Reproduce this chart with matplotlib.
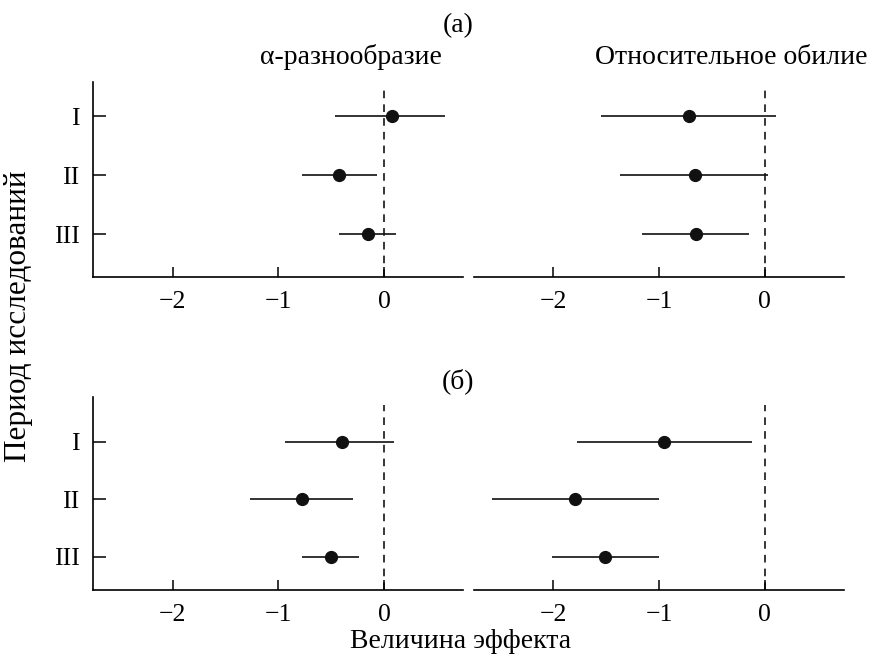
import matplotlib
matplotlib.use("Agg")
import matplotlib.pyplot as plt

plt.rcParams['font.family'] = ['Liberation Serif', 'DejaVu Serif']
plt.rcParams['font.size'] = 18.5

periods = ['I', 'II', 'III']
ypos = [1, 2, 3]

# (a) alpha diversity: mean, lower, upper
a_div_mean = [0.075, -0.425, -0.15]
a_div_low = [-0.465, -0.78, -0.425]
a_div_high = [0.58, -0.066, 0.11]

# (a) relative abundance
a_ab_mean = [-0.72, -0.66, -0.65]
a_ab_low = [-1.55, -1.365, -1.16]
a_ab_high = [0.107, 0.03, -0.15]

# (b) alpha diversity
b_div_mean = [-0.396, -0.776, -0.506]
b_div_low = [-0.94, -1.264, -0.776]
b_div_high = [0.094, -0.29, -0.236]

# (b) relative abundance
b_ab_mean = [-0.948, -1.796, -1.51]
b_ab_low = [-1.78, -2.583, -2.015]
b_ab_high = [-0.116, -0.998, -1.0]

fig = plt.figure(figsize=(8.7, 6.7), dpi=100)

W = 0.4253
H = 0.291
axes_specs = [
    ([0.1073, 0.587, W, H], a_div_mean, a_div_low, a_div_high, (3.72, 0.41), True),
    ([0.5448, 0.587, W, H], a_ab_mean, a_ab_low, a_ab_high, (3.72, 0.41), False),
    ([0.1073, 0.1194, W, 0.2885], b_div_mean, b_div_low, b_div_high, (3.58, 0.22), True),
    ([0.5448, 0.1194, W, 0.2885], b_ab_mean, b_ab_low, b_ab_high, (3.58, 0.22), False),
]

for rect, mean, low, high, ylim, show_y in axes_specs:
    ax = fig.add_axes(rect)
    err = [[m - l for m, l in zip(mean, low)], [h - m for m, h in zip(mean, high)]]
    ax.axvline(0, ymin=0, ymax=0.957, color='black', lw=1.1, ls=(0, (5, 4)))
    ax.errorbar(mean, ypos, xerr=err, fmt='o', color='#111111', ms=8.5,
                elinewidth=1.2, capsize=0, zorder=3)
    ax.set_xlim(-2.75, 0.75)
    ax.set_ylim(*ylim)
    ax.set_xticks([-2, -1, 0])
    ax.set_xticklabels(['\u22122', '\u22121', '0'])
    ax.spines['top'].set_visible(False)
    ax.spines['right'].set_visible(False)
    ax.spines['bottom'].set_linewidth(1.2)
    ax.spines['left'].set_linewidth(1.2)
    ax.tick_params(axis='x', direction='in', length=7, width=1.1, pad=10)
    if show_y:
        ax.set_yticks(ypos)
        ax.set_yticklabels(periods)
        ax.tick_params(axis='y', direction='in', length=9, width=1.1, pad=10)
    else:
        ax.spines['left'].set_visible(False)
        ax.set_yticks([])

fs = 20
fig.text(458 / 870, 1 - 26 / 670, '(a)', ha='center', va='center', fontsize=fs)
fig.text(351 / 870, 1 - 57 / 670, '\u03b1-разнообразие', ha='center', va='center', fontsize=fs)
fig.text(731 / 870, 1 - 57 / 670, 'Относительное обилие', ha='center', va='center', fontsize=fs)
fig.text(458 / 870, 1 - 381 / 670, '(б)', ha='center', va='center', fontsize=fs)
fig.text(461 / 870, 1 - 641 / 670, 'Величина эффекта', ha='center', va='center', fontsize=fs)
fig.text(19 / 870, 1 - 316 / 670, 'Период исследований', ha='center', va='center',
         rotation=90, fontsize=22.5)

fig.savefig('out.png', dpi=100)
